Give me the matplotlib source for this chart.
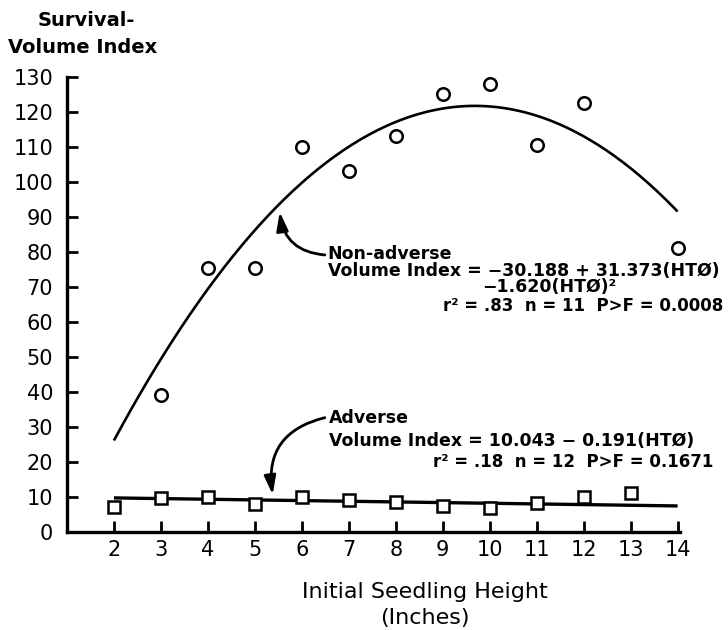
import matplotlib
matplotlib.use('Agg')
import matplotlib.pyplot as plt
import numpy as np

# ---------------------------------------------------------------
# data
# ---------------------------------------------------------------
nonadv_height = [3, 4, 5, 6, 7, 8, 9, 10, 11, 12, 14]
nonadv_index = [39, 75.5, 75.5, 110, 103, 113, 125, 128, 110.5, 122.5, 81]

adv_height = [2, 3, 4, 5, 6, 7, 8, 9, 10, 11, 12, 13]
adv_index = [7, 9.5, 10, 8, 10, 9, 8.5, 7.3, 6.8, 8.2, 9.8, 11.2]

# regression coefficients printed on the chart
nonadv_coef = [-30.188, 31.373, -1.620]
adv_coef = [10.043, -0.191]
fit_range = [2, 14]

xticks = list(range(2, 15))
yticks = list(range(0, 131, 10))

plt.rcParams['font.family'] = 'DejaVu Sans'

fig = plt.figure(figsize=(7.28, 6.3), dpi=100)
ax = fig.add_axes([0.092, 0.156, 0.842, 0.722])

xx = np.linspace(fit_range[0], fit_range[1], 200)
y_nonadv = nonadv_coef[0] + nonadv_coef[1] * xx + nonadv_coef[2] * xx ** 2
y_adv = adv_coef[0] + adv_coef[1] * xx

ax.plot(xx, y_nonadv, color='black', lw=1.9, solid_capstyle='butt')
ax.plot(xx, y_adv, color='black', lw=2.4, solid_capstyle='butt')

ax.plot(nonadv_height, nonadv_index, 'o', ms=9, mfc='white', mec='black',
        mew=1.8, clip_on=False, zorder=3)
ax.plot(adv_height, adv_index, 's', ms=9, mfc='white', mec='black',
        mew=1.8, clip_on=False, zorder=3)

ax.set_xlim(1, 14.05)
ax.set_ylim(0, 130)
ax.set_xticks(xticks)
ax.set_yticks(yticks)
ax.tick_params(direction='in', length=8, width=2, labelsize=15, pad=6)
ax.tick_params(axis='y', pad=10)
for side in ['top', 'right']:
    ax.spines[side].set_visible(False)
for side in ['left', 'bottom']:
    ax.spines[side].set_linewidth(2.4)

# axis titles
fig.text(0.119, 0.968, 'Survival-', ha='center', va='center',
         fontsize=14, fontweight='bold')
fig.text(0.113, 0.925, 'Volume Index', ha='center', va='center',
         fontsize=14, fontweight='bold')
fig.text(0.584, 0.060, 'Initial Seedling Height', ha='center', va='center',
         fontsize=16)
fig.text(0.584, 0.019, '(Inches)', ha='center', va='center', fontsize=16)

# annotations
tkw = dict(fontsize=12.5, fontweight='bold', ha='left', va='center')
rkw = dict(fontsize=12, fontweight='bold', ha='right', va='center')
arrow = '-|>,head_length=0.7,head_width=0.22'

ax.annotate('', xy=(5.53, 91.4), xytext=(6.49, 79.1),
            arrowprops=dict(arrowstyle=arrow, color='black', lw=2,
                            mutation_scale=16, connectionstyle='arc3,rad=-0.4',
                            shrinkA=0, shrinkB=0))
ax.text(6.55, 79.3, 'Non-adverse', **tkw)
ax.text(6.55, 74.5, 'Volume Index = \u221230.188 + 31.373(HT\u00d8)', **tkw)
ax.text(9.83, 69.8, '\u22121.620(HT\u00d8)\u00b2', **tkw)
ax.text(14.98, 64.5, 'r\u00b2 = .83  n = 11  P>F = 0.0008', **rkw)

ax.annotate('', xy=(5.38, 10.6), xytext=(6.49, 32.6),
            arrowprops=dict(arrowstyle=arrow, color='black', lw=2,
                            mutation_scale=16, connectionstyle='arc3,rad=0.45',
                            shrinkA=0, shrinkB=0))
ax.text(6.57, 32.6, 'Adverse', **tkw)
ax.text(6.57, 26.0, 'Volume Index = 10.043 \u2212 0.191(HT\u00d8)', **tkw)
ax.text(14.77, 20.0, 'r\u00b2 = .18  n = 12  P>F = 0.1671', **rkw)

fig.savefig('out.png', dpi=100)
